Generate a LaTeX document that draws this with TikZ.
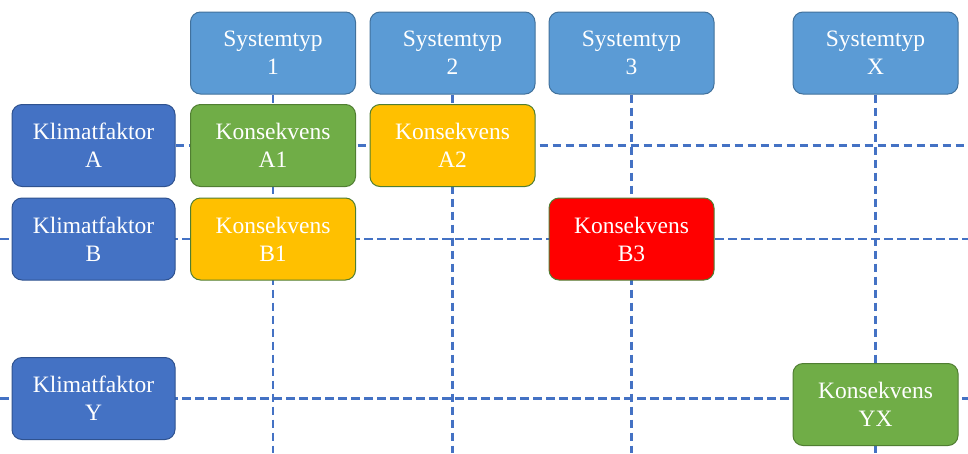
\documentclass[tikz,border=0pt]{standalone}
\usepackage{fontspec}
\setmainfont{Liberation Serif}
\usetikzlibrary{backgrounds}
\definecolor{sysblue}{HTML}{5B9BD5}
\definecolor{sysborder}{HTML}{41719C}
\definecolor{klblue}{HTML}{4472C4}
\definecolor{klborder}{HTML}{2F528F}
\definecolor{kgreen}{HTML}{70AD47}
\definecolor{kyellow}{HTML}{FFC000}
\definecolor{kred}{HTML}{FF0000}
\definecolor{kborder}{HTML}{507E32}
\definecolor{gridblue}{HTML}{4472C4}
\tikzset{
  box/.style={rounded corners=10pt, minimum width=165pt, minimum height=82pt, inner sep=0pt,
    align=center, text=white, font=\fontsize{23.5}{28}\selectfont, line width=1pt},
  sysbox/.style={box, fill=sysblue, draw=sysborder},
  klbox/.style={box, fill=klblue, draw=klborder, minimum width=163pt},
  konbox/.style={box, draw=kborder},
  gridline/.style={draw=gridblue, line width=2.2pt, dash pattern=on 8.5pt off 4.5pt}
}
\begin{document}
\begin{tikzpicture}[x=1pt,y=1pt]
\useasboundingbox (0,0) rectangle (968,-453);
% column headers
\node[sysbox] (s1) at (273,-53) {Systemtyp\\1};
\node[sysbox] (s2) at (452.5,-53) {Systemtyp\\2};
\node[sysbox] (s3) at (631.5,-53) {Systemtyp\\3};
\node[sysbox] (sX) at (875.5,-53) {Systemtyp\\X};
% row headers
\node[klbox] (kA) at (93.5,-145.5) {Klimatfaktor\\A};
\node[klbox] (kB) at (93.5,-239) {Klimatfaktor\\B};
\node[klbox] (kY) at (93.5,-398.5) {Klimatfaktor\\Y};
% consequences
\node[konbox, fill=kgreen] (cA1) at (273,-145.5) {Konsekvens\\A1};
\node[konbox, fill=kyellow] (cA2) at (452.5,-145.5) {Konsekvens\\A2};
\node[konbox, fill=kyellow] (cB1) at (273,-239) {Konsekvens\\B1};
\node[konbox, fill=kred] (cB3) at (631.5,-239) {Konsekvens\\B3};
\node[konbox, fill=kgreen] (cYX) at (875.5,-404.5) {Konsekvens\\YX};
% free ends
\coordinate (eA) at (968,-145.5);
\coordinate (wB) at (0,-239);
\coordinate (eB) at (968,-239);
\coordinate (wY) at (0,-398.5);
\coordinate (eY) at (968,-398.5);
\coordinate (b1) at (273,-453);
\coordinate (b2) at (452.5,-453);
\coordinate (b3) at (631.5,-453);
\coordinate (bX) at (875.5,-453);
\begin{scope}[on background layer]
  \draw[gridline] (kA.east) -- (eA);
  \draw[gridline] (wB) -- (eB);
  \draw[gridline] (wY) -- (eY);
  \draw[gridline] (s1.south) -- (b1);
  \draw[gridline] (s2.south) -- (b2);
  \draw[gridline] (s3.south) -- (b3);
  \draw[gridline] (sX.south) -- (bX);
\end{scope}
\end{tikzpicture}
\end{document}
